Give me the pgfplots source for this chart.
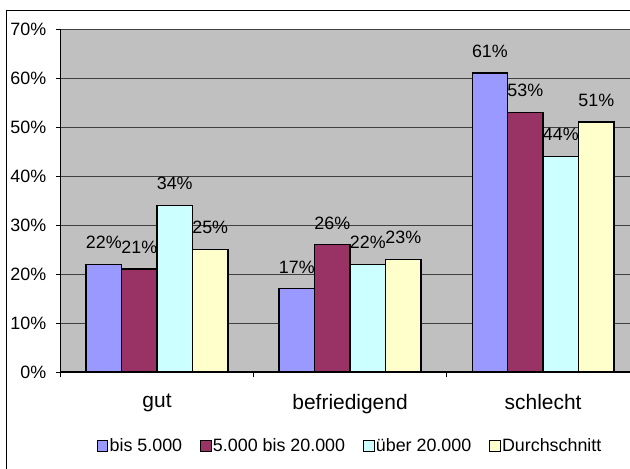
\documentclass[border=0pt]{standalone}
\usepackage{pgfplots}
\usepackage{pgfplotstable}
\pgfplotsset{compat=1.18}
\usepackage{fontspec}
\setmainfont{Liberation Sans}
\definecolor{serA}{HTML}{9999FF}
\definecolor{serB}{HTML}{993366}
\definecolor{serC}{HTML}{CCFFFF}
\definecolor{serD}{HTML}{FFFFCC}
\definecolor{plotbg}{HTML}{C0C0C0}
\newcommand\cf{\fontsize{13.4pt}{16pt}\selectfont}
\newcommand\catf{\fontsize{15.7pt}{18pt}\selectfont}

\pgfplotstableread{
x a  b  c  d
0 22 21 34 25
1 17 26 22 23
2 61 53 44 51
}\data

\begin{document}
\begin{tikzpicture}
\useasboundingbox (0pt,0pt) rectangle (472.5pt,351pt);
\draw[line width=0.75pt] (4.5pt,342.75pt) rectangle (530pt,-40pt);
\begin{axis}[
  at={(45.375pt,72pt)}, anchor=south west,
  scale only axis, width=427.1pt, height=257.25pt,
  xmin=-0.5, xmax=2.45, ymin=0, ymax=70,
  clip=false,
  axis background/.style={fill=plotbg},
  axis x line*=bottom, axis y line*=left,
  x axis line style={line width=1.1pt},
  y axis line style={line width=0.75pt},
  ybar=0pt, bar width=26.6pt,
  every axis plot/.append style={draw=black, line width=1pt},
  ytick={0,10,...,70},
  yticklabel={\pgfmathprintnumber[assume math mode=true]{\tick}\%},
  ymajorgrids,
  major grid style={black!75, line width=0.75pt},
  tick align=outside,
  major tick length=3.5pt,
  ytick style={black, line width=0.75pt},
  xtick={0,1,2},
  xticklabels={gut,befriedigend,schlecht},
  xtick style={draw=none},
  extra x ticks={-0.5,0.5,1.5},
  extra x tick labels={},
  extra x tick style={xtick style={draw=black, line width=0.75pt}, major tick length=4pt},
  yticklabel style={font=\cf, inner sep=0pt, xshift=-7pt},
  xticklabel style={font=\catf, inner sep=0pt, yshift=-13pt},
  nodes near coords={\pgfmathprintnumber[assume math mode=true]{\pgfplotspointmeta}\%},
  nodes near coords style={font=\cf, anchor=south, inner sep=0pt, yshift=11pt, text=black},
  legend columns=-1,
  legend style={at={(0.508,-0.2157)}, anchor=center, draw=none, fill=none,
    font=\cf, nodes={inner sep=1pt},
    /tikz/every even column/.append style={column sep=12.5pt}},
  legend image code/.code={\draw[#1, line width=0.8pt] (0pt,-3.9pt) rectangle (7.8pt,3.9pt);},
]
\addplot[fill=serA] table[x=x,y=a] {\data};
\addplot[fill=serB] table[x=x,y=b] {\data};
\addplot[fill=serC] table[x=x,y=c] {\data};
\addplot[fill=serD] table[x=x,y=d] {\data};
\legend{bis 5.000, 5.000 bis 20.000, über 20.000, Durchschnitt}
\end{axis}
\end{tikzpicture}
\end{document}
